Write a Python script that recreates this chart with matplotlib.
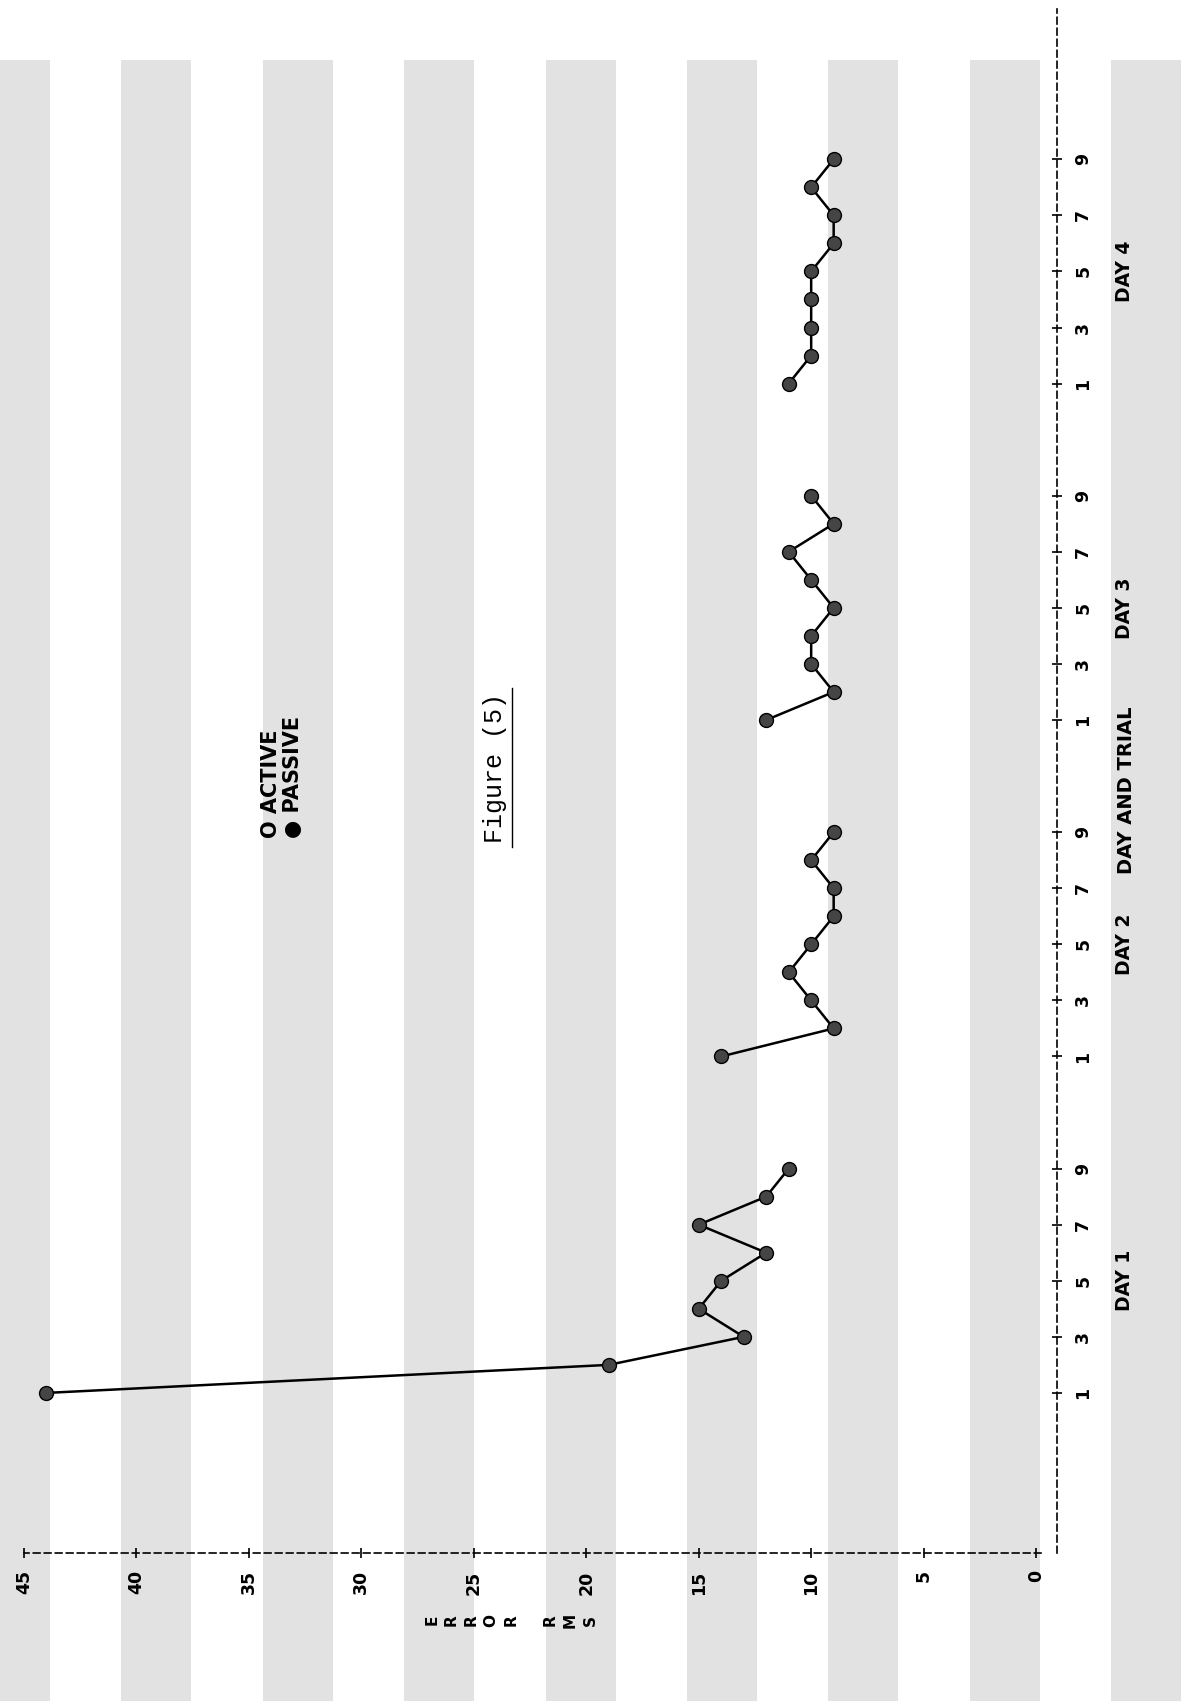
import matplotlib
matplotlib.use('Agg')
import matplotlib.pyplot as plt
import numpy as np
from matplotlib.patches import Rectangle
from matplotlib.lines import Line2D
from matplotlib.transforms import blended_transform_factory

# passive group, error RMS for trials 1-9 of each day
days = [1, 2, 3, 4]
trials = [1, 2, 3, 4, 5, 6, 7, 8, 9]
day1 = [44, 19, 13, 15, 14, 12, 15, 12, 11]
day2 = [14, 9, 10, 11, 10, 9, 9, 10, 9]
day3 = [12, 9, 10, 10, 9, 10, 11, 9, 10]
day4 = [11, 10, 10, 10, 10, 9, 9, 10, 9]
passive = [day1, day2, day3, day4]

error_ticks = [0, 5, 10, 15, 20, 25, 30, 35, 40, 45]
trial_ticks = [1, 3, 5, 7, 9]
legend_labels = ['O ACTIVE', '\u25CF PASSIVE']
axis_title = 'ERROR RMS'

W, H = 1183, 1701
plt.rcParams['font.family'] = ['DejaVu Sans']

fig = plt.figure(figsize=(W / 100, H / 100), dpi=100)

# scanned page: light grey halftone bands
for cx in np.arange(15, W, 141.4):
    fig.patches.append(Rectangle(((cx - 35) / W, 0), 70 / W, 1 - 60 / H,
                                 transform=fig.transFigure, facecolor='#e2e2e2',
                                 edgecolor='none', zorder=-10))

# the page is printed sideways: error runs along x, day/trial along y
ax = fig.add_axes([24 / W, 1 - 1553 / H, (1057 - 24) / W, (1553 - 9) / H])
ax.set_zorder(1)
ax.patch.set_alpha(0)

gap = 12  # slots per day on the trial axis
for d, vals in zip(days, passive):
    pos = [(d - 1) * gap + t for t in trials]
    ax.plot(vals, pos, color='black', lw=1.8, marker='o', markersize=10,
            markerfacecolor='#454545', markeredgecolor='black', markeredgewidth=1.0)

ax.set_xlim(45, -0.93)
ax.set_ylim(-4.71, 50.36)

for side in ['left', 'top']:
    ax.spines[side].set_visible(False)
for side in ['bottom', 'right']:
    ax.spines[side].set_linewidth(1.2)
    ax.spines[side].set_linestyle((0, (4, 2.6)))
ax.spines['bottom'].set_bounds(-0.2, 45)

ax.set_xticks(error_ticks)
ax.set_xticklabels([str(v) for v in error_ticks])
ax.tick_params(axis='x', direction='inout', length=7, width=1.2, pad=9,
               labelsize=12.5, labelrotation=90)

ypos = [(d - 1) * gap + t for d in days for t in trial_ticks]
ylab = [str(t) for d in days for t in trial_ticks]
ax.yaxis.tick_right()
ax.set_yticks(ypos)
ax.set_yticklabels(ylab)
ax.tick_params(axis='y', direction='inout', length=7, width=1.2, pad=9,
               labelsize=12.5, labelrotation=90)
for lab in ax.get_xticklabels() + ax.get_yticklabels():
    lab.set_fontweight('bold')
for lab in ax.get_yticklabels():
    lab.set_va('center')

trans = blended_transform_factory(ax.transAxes, ax.transData)
for d in days:
    ax.text(1.065, (d - 1) * gap + 5, 'DAY %d' % d, transform=trans, rotation=90,
            ha='center', va='center', fontsize=13.5, fontweight='bold', clip_on=False)
ax.text(1.067, 22.5, 'DAY AND TRIAL', transform=trans, rotation=90,
        ha='center', va='center', fontsize=14, fontweight='bold', clip_on=False)

# stacked axis title, letters run left to right
fig.text(511 / W, 1 - 1620 / H, '\n'.join(axis_title), rotation=90,
         ha='center', va='center', ma='center', fontsize=11,
         fontweight='bold', linespacing=1.4)

# legend
fig.text(271 / W, 1 - 838 / H, legend_labels[0], rotation=90, ha='center', va='bottom',
         fontsize=15, fontweight='bold')
fig.text(293 / W, 1 - 838 / H, legend_labels[1], rotation=90, ha='center', va='bottom',
         fontsize=15, fontweight='bold')

# caption
fig.text(495 / W, 1 - 768 / H, 'Figure (5)', rotation=90, ha='center', va='center',
         fontsize=18, family='Liberation Mono')
fig.lines.append(Line2D([512 / W, 512 / W], [1 - 688 / H, 1 - 847 / H],
                        transform=fig.transFigure, color='black', lw=1.0))

fig.savefig('out.png', dpi=100)
